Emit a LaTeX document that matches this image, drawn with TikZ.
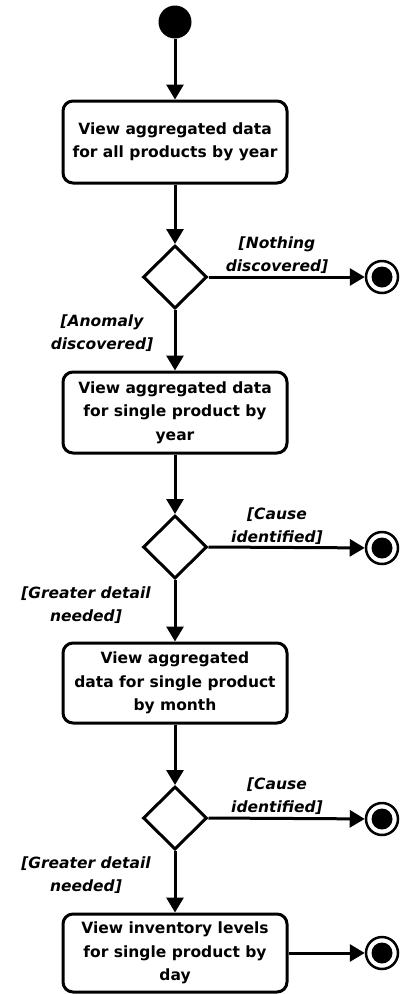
\documentclass[tikz,border=0pt]{standalone}
\usepackage{fontspec}
\setmainfont{DejaVu Sans}
\usetikzlibrary{arrows.meta,shapes.geometric}

\tikzset{
  flow/.style={line width=3pt, -{Triangle[length=15pt,width=17pt]}},
  startnode/.style={circle, fill=black, minimum size=33pt, inner sep=0pt},
  act/.style={draw, line width=3pt, rounded corners=10pt, minimum width=224pt,
    align=center, inner sep=0pt, font=\fontsize{15.5}{23.5}\selectfont\bfseries},
  choice/.style={diamond, draw, line width=3pt, minimum width=64pt,
    minimum height=63pt, inner sep=0pt, aspect=1},
  finish/.style={circle, draw, line width=2.5pt, minimum size=32pt, inner sep=0pt,
    path picture={\fill (path picture bounding box.center) circle (10.5pt);}},
  guard/.style={align=center, inner sep=0pt,
    font=\fontsize{15.5}{23.5}\selectfont\bfseries\itshape},
}

\begin{document}
\begin{tikzpicture}[x=1pt, y=-1pt]
\useasboundingbox (0,0) rectangle (401,994);

% activity nodes
\node[startnode] (start) at (175,22) {};
\node[act, minimum height=82pt] (a1) at (175,142)
  {View aggregated data\\for all products by year};
\node[choice] (d1) at (175,277) {};
\node[finish] (f1) at (382,277) {};
\node[act, minimum height=81pt] (a2) at (175,412.5)
  {View aggregated data\\for single product by\\year};
\node[choice] (d2) at (175,547) {};
\node[finish] (f2) at (382,548) {};
\node[act, minimum height=80pt] (a3) at (175,683)
  {View aggregated\\data for single product\\by month};
\node[choice] (d3) at (175,818) {};
\node[finish] (f3) at (382,819) {};
\node[act, minimum height=78pt] (a4) at (175,953)
  {View inventory levels\\for single product by\\day};
\node[finish] (f4) at (382,953) {};

% guard conditions
\node[guard] (g1) at (277,255) {[Nothing\\discovered]};
\node[guard] (g2) at (102,333) {[Anomaly\\discovered]};
\node[guard] (g3) at (277,526) {[Cause\\identified]};
\node[guard] (g4) at (86,605) {[Greater detail\\needed]};
\node[guard] (g5) at (277,796) {[Cause\\identified]};
\node[guard] (g6) at (86,875) {[Greater detail\\needed]};

% control flow
\draw[flow] (start) -- (a1);
\draw[flow] (a1) -- (d1);
\draw[flow] (d1) -- (f1);
\draw[flow] (d1) -- (a2);
\draw[flow] (a2) -- (d2);
\draw[flow] (d2.east) -- (f2);
\draw[flow] (d2) -- (a3);
\draw[flow] (a3) -- (d3);
\draw[flow] (d3.east) -- (f3);
\draw[flow] (d3) -- (a4);
\draw[flow] (a4) -- (f4);
\end{tikzpicture}
\end{document}
